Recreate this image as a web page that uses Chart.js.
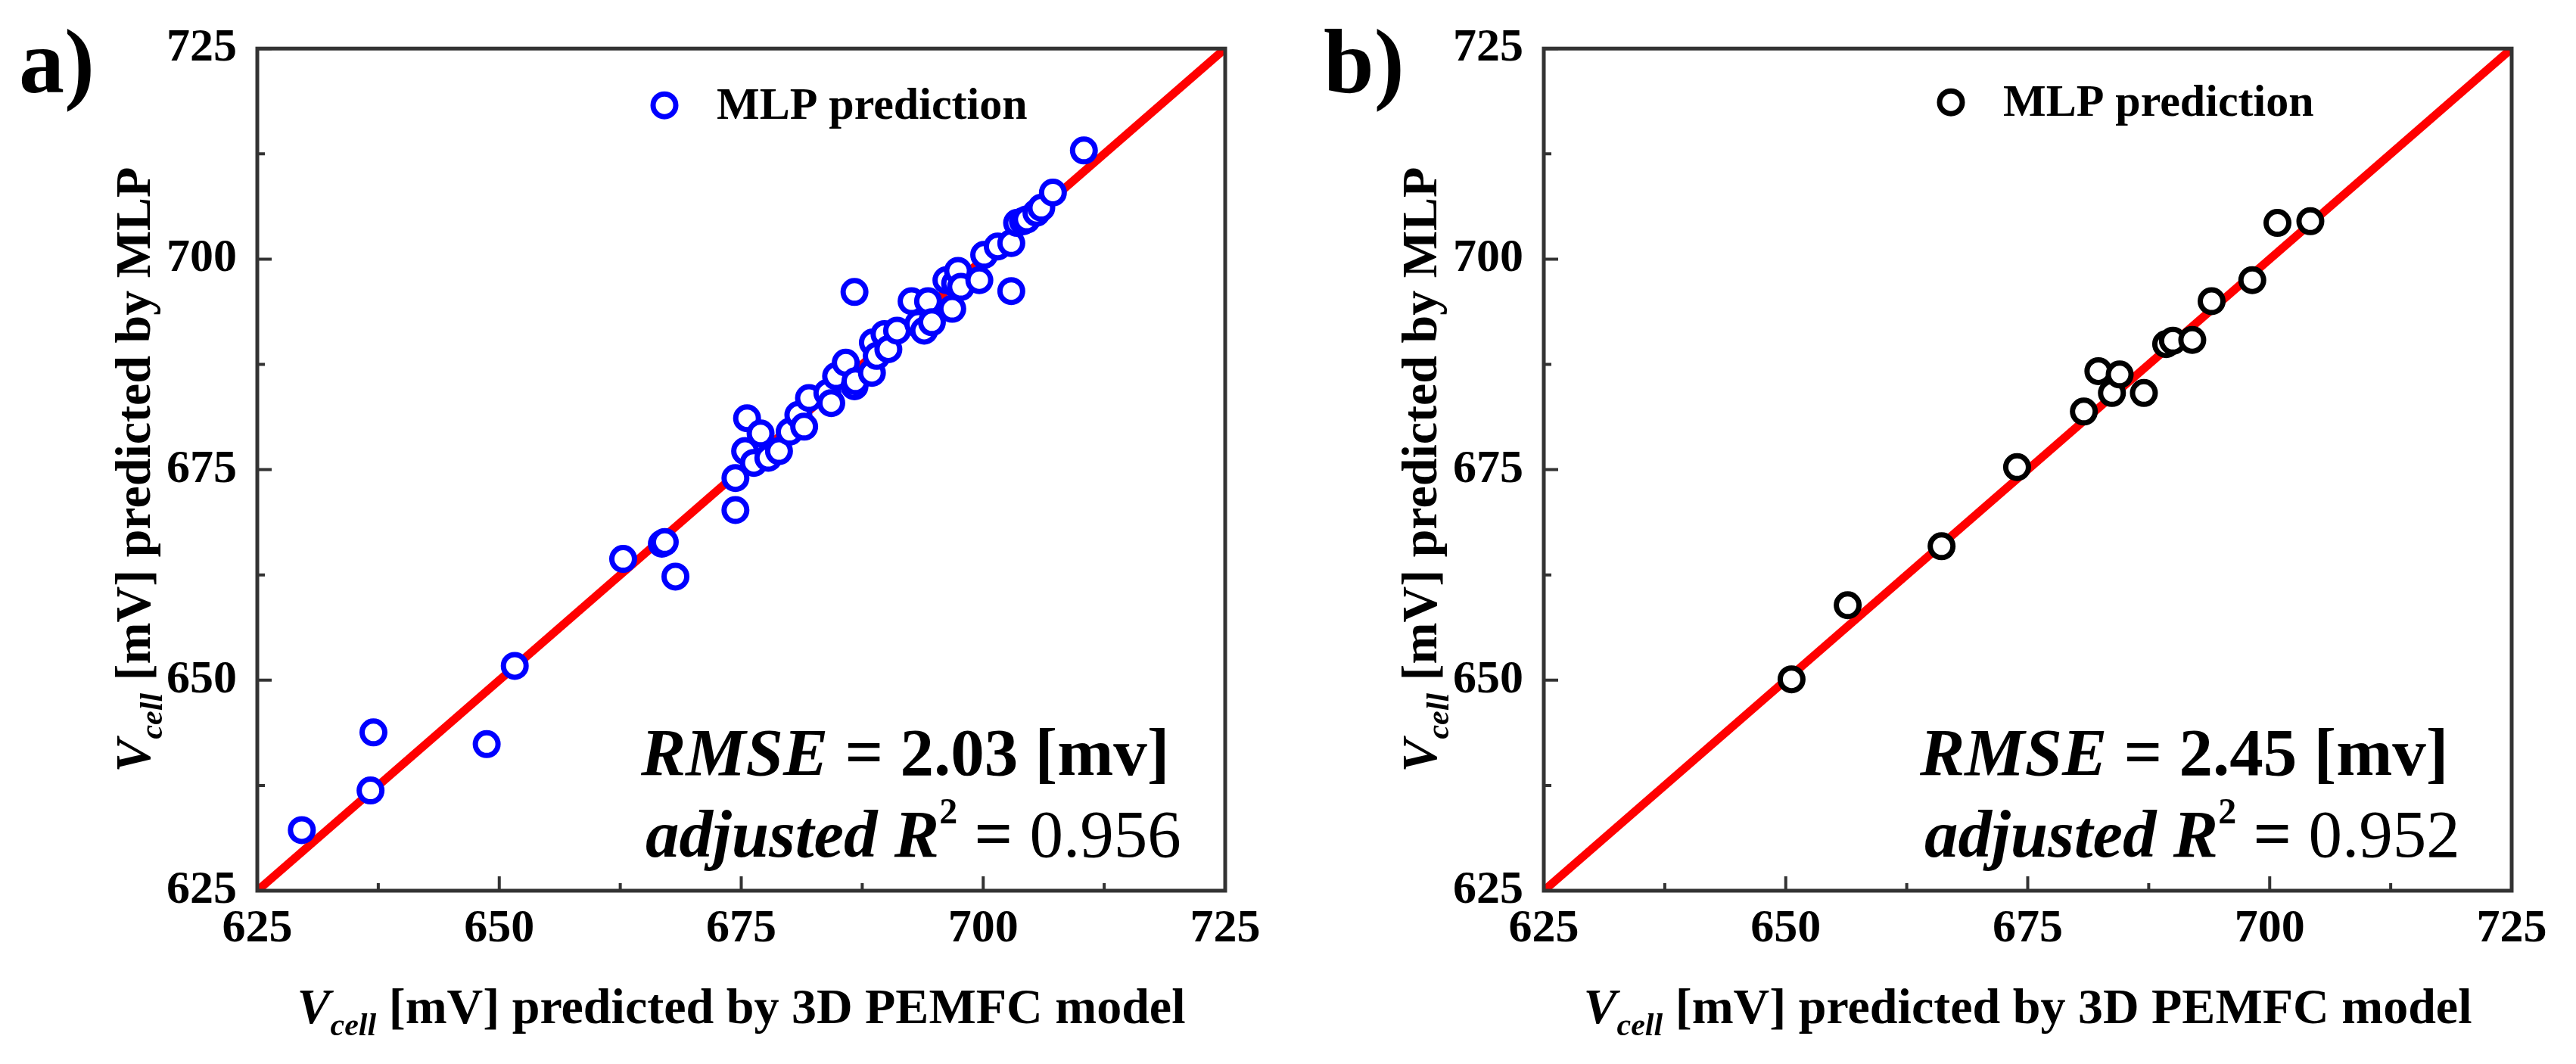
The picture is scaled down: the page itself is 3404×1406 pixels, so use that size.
<!DOCTYPE html>
<html>
<head>
<meta charset="utf-8">
<title>MLP vs 3D PEMFC model</title>
<script src="https://cdn.jsdelivr.net/npm/chart.js@4.4.1/dist/chart.umd.min.js"></script>
<style>
  html, body { margin: 0; padding: 0; background: #fff; }
  .panel { position: absolute; top: 0; width: 1702px; height: 1406px; }
  #panelA { left: 0; }
  #panelB { left: 1702px; }
</style>
</head>
<body>
<div class="panel" id="panelA"><canvas id="chartA"></canvas></div>
<div class="panel" id="panelB"><canvas id="chartB"></canvas></div>
<script>
// axis range and ticks (mV)
const axisMin = 625;
const axisMax = 725;
const majorTicks = [625, 650, 675, 700, 725];
const minorTicks = [637.5, 662.5, 687.5, 712.5];

// y = x reference line
const refX = [625, 725];
const refY = [625, 725];

// a) Vcell from 3D PEMFC model vs MLP
const aModel = [629.6, 636.7, 637.0, 648.7, 651.6, 662.8, 666.8, 667.1, 668.2, 674.4, 674.4, 675.6, 675.4, 676.3,
  677.0, 677.8, 678.9, 680.0, 680.9, 681.5, 682.0, 683.9, 684.3, 684.8, 685.8, 686.7, 686.7, 686.8, 688.5, 688.6,
  689.0, 689.8, 690.2, 691.1, 692.6, 693.3, 693.9, 694.3, 694.7, 696.2, 696.8, 697.1, 697.4, 697.7, 699.6, 700.1,
  701.5, 702.9, 702.9, 703.5, 704.1, 704.5, 705.5, 706.0, 707.2, 710.4];
const aMLP = [632.2, 636.9, 643.8, 642.4, 651.7, 664.4, 666.2, 666.4, 662.3, 674.0, 670.2, 681.1, 677.2, 675.8,
  679.3, 676.4, 677.2, 679.5, 681.5, 680.1, 683.5, 684.1, 682.9, 686.1, 687.7, 684.9, 696.1, 685.5, 686.5, 690.1,
  688.5, 691.1, 689.3, 691.5, 695.0, 692.3, 691.5, 695.0, 692.5, 697.5, 694.1, 697.1, 698.6, 696.7, 697.5, 700.5,
  701.5, 701.9, 696.2, 704.3, 704.5, 704.7, 705.5, 706.1, 707.9, 712.9];

// b)
const bModel = [650.6, 656.4, 666.1, 673.9, 680.8, 682.3, 683.7, 684.5, 687.0, 689.3, 690.0, 692.0, 694.0, 698.2, 700.8, 704.2];
const bMLP = [650.1, 658.9, 665.9, 675.3, 681.9, 686.7, 684.1, 686.3, 684.1, 689.9, 690.3, 690.4, 695.0, 697.5, 704.3, 704.5];

const serif = "'Liberation Serif', 'Times New Roman', serif";
const frameColor = '#333333';

// draw a run of differently styled text pieces one after another
function drawParts(ctx, parts, x, y, align) {
    let total = 0;
    parts.forEach(p => {
        ctx.font = p.font;
        p.w = ctx.measureText(p.text).width;
        total += p.w;
    });
    let cx = align === 'center' ? x - total / 2 : x;
    parts.forEach(p => {
        ctx.font = p.font;
        ctx.fillText(p.text, cx, y + (p.dy || 0));
        cx += p.w;
    });
}

function titleParts(rest) {
    return [
        { text: 'V', font: `italic bold 66px ${serif}` },
        { text: 'cell', font: `italic bold 42px ${serif}`, dy: 16 },
        { text: rest, font: `bold 66px ${serif}` }
    ];
}

const decor = {
    id: 'decor',
    afterDatasetsDraw(chart, args, opts) {
        const { ctx, chartArea: ca, scales: { x, y } } = chart;
        ctx.save();

        // inward tick marks
        ctx.strokeStyle = frameColor;
        ctx.lineWidth = 4;
        ctx.beginPath();
        majorTicks.forEach(v => {
            const px = x.getPixelForValue(v), py = y.getPixelForValue(v);
            ctx.moveTo(px, ca.bottom); ctx.lineTo(px, ca.bottom - 19);
            ctx.moveTo(ca.left, py); ctx.lineTo(ca.left + 19, py);
        });
        minorTicks.forEach(v => {
            const px = x.getPixelForValue(v), py = y.getPixelForValue(v);
            ctx.moveTo(px, ca.bottom); ctx.lineTo(px, ca.bottom - 10);
            ctx.moveTo(ca.left, py); ctx.lineTo(ca.left + 10, py);
        });
        ctx.stroke();

        // frame
        ctx.lineWidth = 5;
        ctx.strokeRect(ca.left, ca.top, ca.width, ca.height);

        ctx.fillStyle = '#000';
        ctx.textBaseline = 'alphabetic';
        ctx.textAlign = 'left';

        // legend
        const pts = chart.data.datasets[0];
        ctx.beginPath();
        ctx.arc(ca.left + 538, ca.top + opts.legendY, 15, 0, Math.PI * 2);
        ctx.fillStyle = '#fff';
        ctx.fill();
        ctx.lineWidth = 7;
        ctx.strokeStyle = pts.pointBorderColor;
        ctx.stroke();
        ctx.fillStyle = '#000';
        drawParts(ctx, [{ text: pts.label, font: `bold 60px ${serif}` }], ca.left + 607, ca.top + opts.legendY + 18, 'left');

        // statistics
        drawParts(ctx, [
            { text: 'RMSE', font: `italic bold 89px ${serif}` },
            { text: ` = ${opts.rmse} [mv]`, font: `bold 89px ${serif}` }
        ], ca.left + opts.statX, ca.top + 960, 'left');
        drawParts(ctx, [
            { text: 'adjusted R', font: `italic bold 89px ${serif}` },
            { text: '2', font: `bold 48px ${serif}`, dy: -44 },
            { text: ' = ', font: `bold 89px ${serif}` },
            { text: opts.r2, font: `89px ${serif}` }
        ], ca.left + opts.statX + 6, ca.top + 1068, 'left');

        // axis titles
        drawParts(ctx, titleParts(' [mV] predicted by 3D PEMFC model'), (ca.left + ca.right) / 2, 1352, 'center');
        ctx.save();
        ctx.translate(opts.yTitleX, (ca.top + ca.bottom) / 2);
        ctx.rotate(-Math.PI / 2);
        drawParts(ctx, titleParts(' [mV] predicted by MLP'), 0, 0, 'center');
        ctx.restore();

        // panel letter
        drawParts(ctx, [{ text: opts.panel, font: `bold 120px ${serif}` }], opts.panelX, 122, 'left');

        ctx.restore();
    }
};

function makeChart(id, xs, ys, color, yWidth, rightPad, deco) {
    const tickFont = { family: serif, size: 62, weight: 'bold' };
    return new Chart(document.getElementById(id), {
        type: 'scatter',
        data: {
            datasets: [
                {
                    label: 'MLP prediction',
                    data: xs.map((v, i) => ({ x: v, y: ys[i] })),
                    pointStyle: 'circle',
                    pointRadius: 15,
                    pointBorderWidth: 7,
                    pointBorderColor: color,
                    pointBackgroundColor: '#ffffff',
                    order: 0
                },
                {
                    label: 'y = x',
                    data: refX.map((v, i) => ({ x: v, y: refY[i] })),
                    showLine: true,
                    borderColor: '#ff0000',
                    borderWidth: 11,
                    pointRadius: 0,
                    order: 1
                }
            ]
        },
        options: {
            responsive: true,
            maintainAspectRatio: false,
            animation: false,
            devicePixelRatio: 1,
            events: [],
            layout: { padding: { top: 57, right: rightPad, bottom: 0, left: 0 } },
            plugins: {
                legend: { display: false },
                tooltip: { enabled: false },
                decor: deco
            },
            scales: {
                x: {
                    type: 'linear',
                    min: axisMin,
                    max: axisMax,
                    afterBuildTicks: s => { s.ticks = majorTicks.map(v => ({ value: v })); },
                    afterFit: s => { s.height = 229; },
                    grid: { display: false, drawTicks: false },
                    border: { display: false },
                    ticks: { color: '#000', font: tickFont, padding: 14, maxRotation: 0 }
                },
                y: {
                    type: 'linear',
                    min: axisMin,
                    max: axisMax,
                    afterBuildTicks: s => { s.ticks = majorTicks.map(v => ({ value: v })); },
                    afterFit: s => { s.width = yWidth; },
                    grid: { display: false, drawTicks: false },
                    border: { display: false },
                    ticks: { color: '#000', font: tickFont, padding: 27 }
                }
            }
        },
        plugins: [decor]
    });
}

makeChart('chartA', aModel, aMLP, '#0000ff', 340, 83,
    { panel: 'a)', panelX: 25, rmse: '2.03', r2: '0.956', statX: 507, legendY: 75, yTitleX: 198 });
makeChart('chartB', bModel, bMLP, '#000000', 338, 85,
    { panel: 'b)', panelX: 47, rmse: '2.45', r2: '0.952', statX: 497, legendY: 71, yTitleX: 196 });
</script>
</body>
</html>
